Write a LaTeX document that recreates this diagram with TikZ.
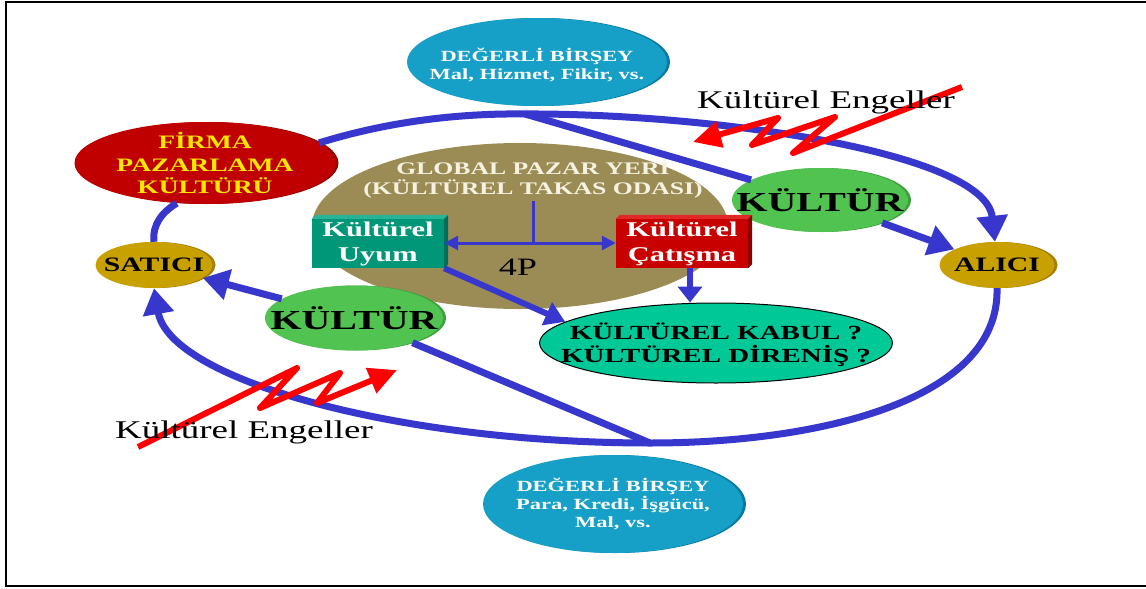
\documentclass[tikz,border=0pt]{standalone}
\usepackage{fontspec}
\setmainfont{Liberation Serif}[FakeStretch=1.45]
\usetikzlibrary{arrows.meta,shapes.geometric,shadows}
\definecolor{loopblue}{RGB}{55,55,205}
\definecolor{valblue}{RGB}{22,160,200}
\definecolor{valrim}{RGB}{10,120,160}
\definecolor{firmared}{RGB}{192,0,0}
\definecolor{firmarim}{RGB}{150,0,0}
\definecolor{firmayellow}{RGB}{255,232,0}
\definecolor{gold}{RGB}{200,160,0}
\definecolor{goldrim}{RGB}{165,125,0}
\definecolor{globbrown}{RGB}{155,140,85}
\definecolor{cream}{RGB}{246,242,225}
\definecolor{uyumteal}{RGB}{0,150,120}
\definecolor{uyumtop}{RGB}{40,180,150}
\definecolor{uyumside}{RGB}{0,110,90}
\definecolor{catred}{RGB}{200,0,0}
\definecolor{cattop}{RGB}{225,40,40}
\definecolor{catside}{RGB}{140,0,0}
\definecolor{kabulgreen}{RGB}{0,200,150}
\definecolor{kulgreen}{RGB}{80,195,80}
\definecolor{kulrim}{RGB}{60,160,60}
\definecolor{zigred}{RGB}{255,0,0}
\begin{document}
\begin{tikzpicture}[x=1pt,y=-1pt,
  oval/.style={ellipse, inner sep=0pt},
  rim/.style={general shadow={fill=#1, shadow xshift=3pt, shadow yshift=0pt}},
  valtext/.style={align=center, text=white, font=\bfseries\fontsize{15.5}{17.5}\selectfont},
  goldtext/.style={text=black, font=\bfseries\fontsize{20.5}{22}\selectfont},
  kultext/.style={text=black, font=\bfseries\fontsize{27.5}{30}\selectfont},
  box3d/.style={rectangle, inner sep=0pt, align=center, text=white, font=\bfseries\fontsize{21}{25}\selectfont, minimum width=132pt, minimum height=49pt},
  lp/.style={draw=loopblue, line width=7pt},
  bigtip/.style={-{Triangle[length=26pt,width=30pt]}},
  midtip/.style={-{Triangle[length=20pt,width=24pt]}},
  zig/.style={draw=zigred, line width=6pt, line join=round, -{Triangle[length=28pt,width=26pt]}},
  engtext/.style={anchor=base, font=\fontsize{25.5}{28}\selectfont}
]
\useasboundingbox (0,0) rectangle (1146,589);
\fill[white] (0,0) rectangle (1146,589);
\draw[line width=2.5pt] (1146,2) -- (6,2) -- (6,586) -- (1146,586);

% central global market
\node[oval, fill=globbrown, minimum width=416pt, minimum height=166pt] (global) at (520,226) {};
\node[align=center, text=cream, font=\bfseries\fontsize{17.7}{20}\selectfont] (gtitle) at (533,179) {GLOBAL PAZAR YERİ\\(KÜLTÜREL TAKAS ODASI)};

% nodes
\node[oval, rim=valrim, fill=valblue, minimum width=260pt, minimum height=88pt,
  label={[valtext, yshift=-3pt]center:{DEĞERLİ BİRŞEY\\Mal, Hizmet, Fikir, vs.}}] (val1) at (537,62) {};
\node[oval, rim=valrim, fill=valblue, minimum width=260pt, minimum height=98pt,
  label={[valtext, font=\bfseries\fontsize{15.5}{18}\selectfont]center:{DEĞERLİ BİRŞEY\\Para, Kredi, İşgücü,\\Mal, vs.}}] (val2) at (613,504) {};
\node[oval, rim=firmarim, fill=firmared, minimum width=261pt, minimum height=82pt,
  label={[align=center, text=firmayellow, font=\bfseries\fontsize{19}{22.5}\selectfont]center:{FİRMA\\PAZARLAMA\\KÜLTÜRÜ}}] (firma) at (205,163) {};
\node[oval, rim=goldrim, fill=gold, minimum width=117pt, minimum height=46pt, label={[goldtext]center:SATICI}] (satici) at (154,265) {};
\node[oval, rim=goldrim, fill=gold, minimum width=115pt, minimum height=46pt, label={[goldtext]center:ALICI}] (alici) at (997,265) {};
\node[oval, rim=kulrim, fill=kulgreen, minimum width=176pt, minimum height=64pt, label={[kultext]center:KÜLTÜR}] (kul1) at (820,200) {};
\node[oval, rim=kulrim, fill=kulgreen, minimum width=178pt, minimum height=65pt, label={[kultext]center:KÜLTÜR}] (kul2) at (354,318) {};
\node[oval, draw=black, line width=1pt, fill=kabulgreen, minimum width=353pt, minimum height=80pt,
  label={[align=center, text=black, font=\bfseries\fontsize{20}{23}\selectfont, yshift=-2pt]center:{KÜLTÜREL KABUL ?\\KÜLTÜREL DİRENİŞ ?}}] (kabul) at (716,343) {};

% 3D boxes
\node[box3d, fill=uyumteal] (uyum) at (378,243.5) {Kültürel\\Uyum};
\fill[uyumtop] (uyum.north west) -- ++(4,-4) -- ([shift={(4,-4)}]uyum.north east) -- (uyum.north east) -- cycle;
\fill[uyumside] (uyum.north east) -- ++(4,-4) -- ([shift={(4,-4)}]uyum.south east) -- (uyum.south east) -- cycle;
\node[box3d, fill=catred] (catisma) at (682,243.5) {Kültürel\\Çatışma};
\fill[cattop] (catisma.north west) -- ++(4,-4) -- ([shift={(4,-4)}]catisma.north east) -- (catisma.north east) -- cycle;
\fill[catside] (catisma.north east) -- ++(4,-4) -- ([shift={(4,-4)}]catisma.south east) -- (catisma.south east) -- cycle;

% 4P
\coordinate (j0) at (533,201);
\coordinate (junc) at (533,243);
\draw[draw=loopblue, line width=3pt] (j0) -- (junc);
\draw[draw=loopblue, line width=3pt, {Triangle[length=14pt,width=14pt]}-{Triangle[length=14pt,width=14pt]}] (uyum.east |- junc) -- (catisma.west |- junc);
\node[font=\fontsize{25}{28}\selectfont] (fourp) at (518,267) {4P};

% loop
\coordinate (ltop) at (525,114);
\coordinate (lbot) at (650,443);
\draw[lp, bigtip] (firma.10) .. controls (380,124) and (450,113) .. (ltop) .. controls (700,113) and (985,150) .. (alici.95);
\draw[lp, bigtip] (alici.south) .. controls (1000,400) and (820,443) .. (lbot) .. controls (400,443) and (170,380) .. (satici.south);
\draw[lp] (satici.north) .. controls (152,225) and (162,212) .. (firma.235);

% straight connectors
\draw[lp] (ltop) -- (kul1);
\draw[lp, bigtip] (kul1) -- (alici);
\draw[lp] (lbot) -- (kul2);
\draw[lp, bigtip] (kul2) -- (satici);
\draw[draw=loopblue, line width=6pt, midtip] (uyum.south east) -- (kabul.172);
\draw[draw=loopblue, line width=6pt, -{Triangle[length=16pt,width=24pt]}] ([xshift=8pt]catisma.south) -- ([xshift=8pt]catisma.south |- kabul.north);

% cultural barriers
\draw[zig] (962,87) -- (793,153) -- (835,117) -- (752,145) -- (778,118) -- (693,142);
\node[engtext] (eng1) at (826,108) {Kültürel Engeller};
\draw[zig] (138,447) -- (297,368) -- (260,408) -- (340,373) -- (317,403) -- (397,370);
\node[engtext] (eng2) at (244,438) {Kültürel Engeller};
\end{tikzpicture}
\end{document}
